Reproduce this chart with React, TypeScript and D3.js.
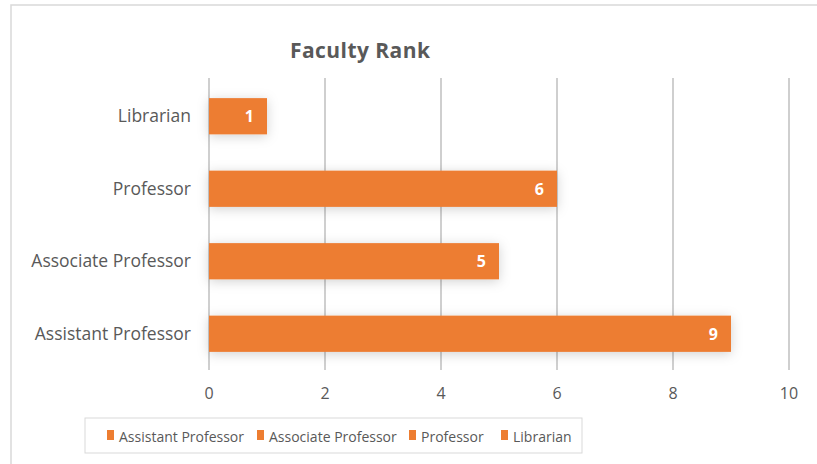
import React from 'react'
import * as d3 from 'd3'

const categories = ['Assistant Professor', 'Associate Professor', 'Professor', 'Librarian']
const counts = [9, 5, 6, 1]
const xTicks = [0, 2, 4, 6, 8, 10]

const width = 817
const height = 464
const font = "'Open Sans', 'Noto Sans', sans-serif"
const orange = '#ED7D31'

export default function App() {
  const x = d3.scaleLinear().domain([0, 10]).range([209, 789])
  // bottom category at the bottom of the plot
  const y = d3.scaleBand().domain([...categories].reverse()).range([80, 370]).paddingInner(0.5).paddingOuter(0.25)

  const legendX = [107, 257, 409, 501]

  return (
    <svg width={width} height={height} style={{ position: 'absolute', left: 0, top: 0, background: '#fff' }}>
      <defs>
        <filter id="shadow" x="-20%" y="-50%" width="140%" height="220%">
          <feDropShadow dx="0" dy="2" stdDeviation="6" floodColor="#000" floodOpacity="0.18" />
        </filter>
      </defs>
      <rect x={11} y={5} width={830} height={480} fill="#fff" stroke="#d9d9d9" strokeWidth={1.5} />

      <text x={360} y={58} textAnchor="middle" fontFamily={font} fontWeight="bold" fontSize={21} fill="#595959" textLength={140}>
        Faculty Rank
      </text>

      {xTicks.map(t => (
        <line key={t} x1={x(t)} x2={x(t)} y1={78} y2={370} stroke="#bfbfbf" strokeWidth={1.5} />
      ))}

      {categories.map((c, i) => (
        <g key={c}>
          <rect x={x(0)} y={y(c)!} width={x(counts[i]) - x(0)} height={y.bandwidth()} fill={orange} filter="url(#shadow)" />
          <text x={x(counts[i]) - 13} y={y(c)! + y.bandwidth() / 2 + 6} textAnchor="end" fontFamily={font} fontWeight="bold" fontSize={16} fill="#fff">
            {counts[i]}
          </text>
          <text x={191} y={y(c)! + y.bandwidth() / 2 + 6} textAnchor="end" fontFamily={font} fontSize={17.5} fill="#595959">
            {c}
          </text>
        </g>
      ))}

      {xTicks.map(t => (
        <text key={t} x={x(t)} y={399} textAnchor="middle" fontFamily={font} fontSize={16} fill="#595959">
          {t}
        </text>
      ))}

      <rect x={85} y={418} width={497} height={35} fill="#fff" stroke="#d9d9d9" strokeWidth={1} />
      {categories.map((c, i) => (
        <g key={c}>
          <rect x={legendX[i]} y={430} width={7} height={10} fill={orange} />
          <text x={legendX[i] + 12} y={441.5} fontFamily={font} fontSize={14} fill="#595959">
            {c}
          </text>
        </g>
      ))}
    </svg>
  )
}
